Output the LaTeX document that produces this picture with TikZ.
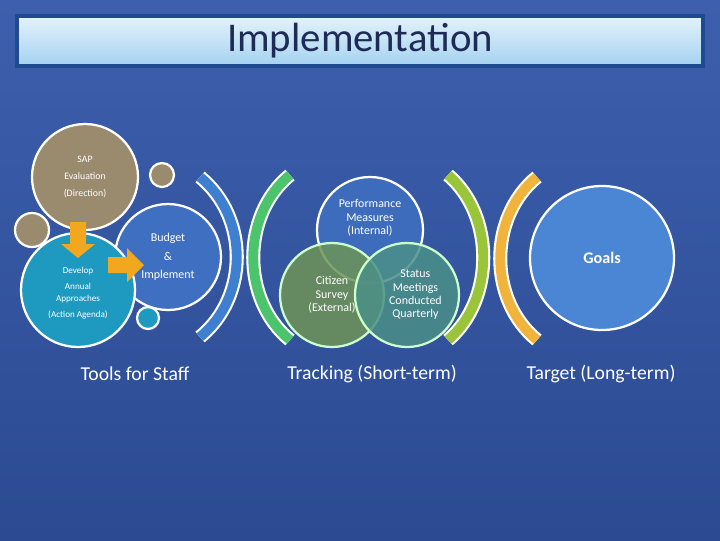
\documentclass[tikz,border=0pt]{standalone}
\usepackage{fontspec}
\setmainfont{Carlito}
\definecolor{bgtop}{HTML}{3D5FAD}
\definecolor{bgbot}{HTML}{2B4A92}
\definecolor{sapbrown}{HTML}{9A8A6E}
\definecolor{devteal}{HTML}{1E9AC0}
\definecolor{budblue}{HTML}{3F6FC0}
\definecolor{citgreen}{HTML}{6E9457}
\definecolor{statteal}{HTML}{4A9088}
\definecolor{goalblue}{HTML}{4A86D4}
\definecolor{arcblue}{HTML}{3F7FD0}
\definecolor{arcgreen}{HTML}{4CC46C}
\definecolor{arclime}{HTML}{9AC43A}
\definecolor{arcorange}{HTML}{F0B43C}
\definecolor{arrowyel}{HTML}{F2A81E}
\definecolor{titletop}{HTML}{E4F2FB}
\definecolor{titlebot}{HTML}{A4D2F0}
\definecolor{titleframe}{HTML}{1F4A90}
\definecolor{titletext}{HTML}{1E2C55}
\tikzset{
  circ/.style={circle,draw=white,line width=1.6pt,inner sep=0pt,align=center,text=white},
  bracket/.style={line width=#1,line cap=butt},
  caption/.style={text=white,font=\fontsize{14}{16}\selectfont}
}
\begin{document}
\begin{tikzpicture}[x=0.025cm,y=-0.025cm]
	\useasboundingbox (0,0) rectangle (720,540);
	\shade[top color=bgtop,bottom color=bgbot] (0,0) rectangle (720,540);
	% title bar
	\node[draw=titleframe,line width=2.5pt,top color=titletop,bottom color=titlebot,
	  minimum width=686*0.025cm,minimum height=50*0.025cm,inner sep=0pt,
	  text=titletext,font=\fontsize{29}{32}\selectfont] (title) at (360,41) {Implementation};
	% left cluster
	\node[circ,fill=sapbrown,minimum size=106*0.025cm,font=\fontsize{7}{12}\selectfont] (sap) at (85,177) {SAP\\Evaluation\\(Direction)};
	\node[circ,fill=sapbrown,minimum size=34*0.025cm] (dotleft) at (32,230) {};
	\node[circ,fill=sapbrown,minimum size=24*0.025cm] (dottop) at (162,175) {};
	\node[circ,fill=budblue,minimum size=106*0.025cm,font=\fontsize{8.5}{13}\selectfont] (budget) at (168,257) {Budget\\\&\\Implement};
	\node[circ,fill=devteal,minimum size=114*0.025cm,font=\fontsize{6.5}{9}\selectfont] (develop) at (78,290) {\\Develop\\[2pt]Annual\\Approaches\\[2pt](Action Agenda)};
	\node[circ,fill=devteal,minimum size=22*0.025cm] (dotbot) at (148,318) {};
	% block arrows
	\fill[arrowyel] (70,222) -- (86,222) -- (86,244) -- (95,244) -- (78,258) -- (61,244) -- (70,244) -- cycle;
	\fill[arrowyel] (108,257) -- (127,257) -- (127,248) -- (144,265) -- (127,282) -- (127,273) -- (108,273) -- cycle;
	% brackets
	\draw[bracket=10pt,white] (200,177) .. controls (249,217) and (249,297) .. (200,337);
	\draw[bracket=7pt,arcblue] (200,177) .. controls (249,217) and (249,297) .. (200,337);
	\draw[bracket=10pt,white] (290,175) .. controls (241,215) and (241,300) .. (290,340);
	\draw[bracket=7pt,arcgreen] (290,175) .. controls (241,215) and (241,300) .. (290,340);
	\draw[bracket=10pt,white] (448,175) .. controls (495,215) and (495,300) .. (448,340);
	\draw[bracket=7pt,arclime] (448,175) .. controls (495,215) and (495,300) .. (448,340);
	\draw[bracket=10pt,white] (537,177) .. controls (488,217) and (488,300) .. (537,340);
	\draw[bracket=7pt,arcorange] (537,177) .. controls (488,217) and (488,300) .. (537,340);
	% venn
	\node[circ,fill=budblue,fill opacity=0.9,minimum size=106*0.025cm] (perf) at (370,230) {};
	\node[text=white,align=center,font=\fontsize{8.5}{9.5}\selectfont] (perftext) at (370,218) {Performance\\Measures\\(Internal)};
	\node[circ,draw=white!80!green,fill=citgreen,fill opacity=0.85,text opacity=1,minimum size=104*0.025cm,
	  font=\fontsize{8.5}{9.5}\selectfont] (citizen) at (332,295) {Citizen\\Survey\\(External)};
	\node[circ,draw=white!80!green,fill=statteal,fill opacity=0.85,text opacity=1,minimum size=104*0.025cm,
	  font=\fontsize{8.5}{9.5}\selectfont] (status) at (407,295) {\hspace*{12pt}\makebox[0pt]{Status}\\\hspace*{12pt}\makebox[0pt]{Meetings}\\\hspace*{12pt}\makebox[0pt]{Conducted}\\\hspace*{12pt}\makebox[0pt]{Quarterly}};
	\node[circ,fill=goalblue,minimum size=144*0.025cm,font=\bfseries\fontsize{11.5}{13}\selectfont] (goals) at (602,258) {Goals};
	% captions
	\node[caption] (tools) at (135,374) {Tools for Staff};
	\node[caption] (tracking) at (372,374) {Tracking (Short-term)};
	\node[caption] (target) at (601,374) {Target (Long-term)};
\end{tikzpicture}
\end{document}
